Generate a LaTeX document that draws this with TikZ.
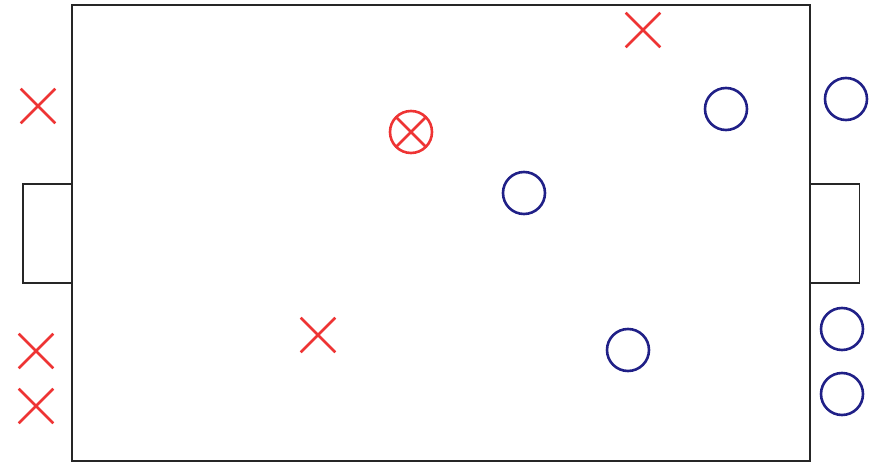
\documentclass[tikz,border=0pt]{standalone}
\usetikzlibrary{shapes.misc}
\definecolor{redteam}{RGB}{238,52,52}
\definecolor{blueteam}{RGB}{32,32,135}
\begin{document}
\begin{tikzpicture}[
    x=1pt, y=-1pt,
    field/.style={rectangle, draw=black!85, line width=1.6pt, minimum width=738pt, minimum height=456pt, inner sep=0pt},
    goal/.style={rectangle, draw=black!85, line width=1.6pt, minimum width=49pt, minimum height=99pt, inner sep=0pt},
    redx/.style={cross out, draw=redteam, line width=2.6pt, minimum size=32pt, inner sep=0pt},
    bluedot/.style={circle, draw=blueteam, line width=2.6pt, minimum size=42pt, inner sep=0pt},
    ballx/.style={circle, draw=redteam, line width=2.6pt, minimum size=42pt, inner sep=0pt,
        path picture={\draw[redteam, line width=2.6pt] (path picture bounding box.north west) -- (path picture bounding box.south east)
            (path picture bounding box.north east) -- (path picture bounding box.south west);}}
]
    \useasboundingbox (0,0) rectangle (873,462);

    % Pitch
    \node[field] (pitch) at (441,233) {};
    \node[goal] (goalL) at (47.5,233.5) {};
    \node[goal] (goalR) at (835,233.5) {};

    % Red team
    \node[redx] (r1) at (38,106) {};
    \node[redx] (r2) at (643,30) {};
    \node[redx] (r3) at (318,335) {};
    \node[redx] (r4) at (36,351) {};
    \node[redx] (r5) at (36,406) {};
    \node[ballx] (rball) at (411,132) {};

    % Blue team
    \node[bluedot] (b1) at (726,109) {};
    \node[bluedot] (b2) at (846,99) {};
    \node[bluedot] (b3) at (524,193) {};
    \node[bluedot] (b4) at (628,350) {};
    \node[bluedot] (b5) at (842,329) {};
    \node[bluedot] (b6) at (842,394) {};

\end{tikzpicture}
\end{document}
